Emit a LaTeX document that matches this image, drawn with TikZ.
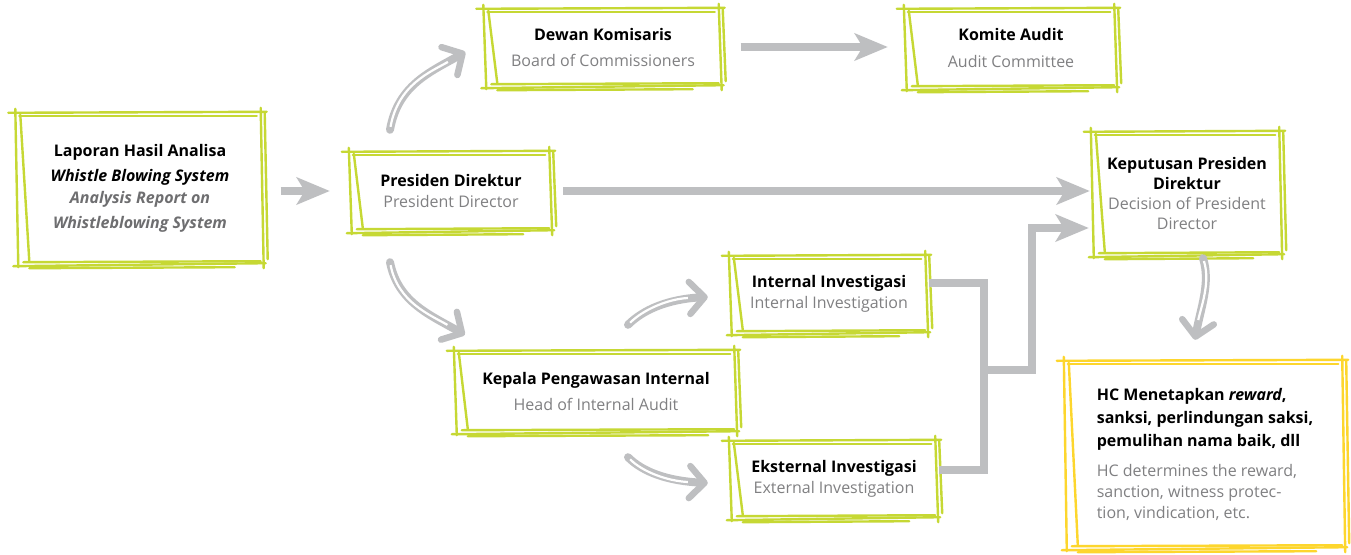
\documentclass[tikz,border=0pt]{standalone}
\usepackage{fontspec}
\setmainfont{Open Sans}
\usetikzlibrary{arrows.meta,calc}
\definecolor{lime}{RGB}{198,216,52}
\definecolor{yel}{RGB}{253,214,45}
\definecolor{agray}{RGB}{190,191,193}
\definecolor{tgray}{RGB}{128,128,130}
\definecolor{igray}{RGB}{110,110,112}
\tikzset{
  box/.style={align=center, inner sep=0pt, font=\fontsize{16}{21}\selectfont},
  sk/.style={draw=#1, line width=2.4pt, line cap=round},
  bigarrow/.style={draw=agray, line width=8pt, -{Stealth[length=33pt,width=27pt,inset=8pt]}},
  elbow/.style={draw=agray, line width=8pt},
  cv/.style={draw=agray, line width=8pt, line cap=round, -{Straight Barb[length=15pt,width=32pt,line width=6.5pt,round]}},
  cvgap/.style={draw=white, line width=2.2pt, shorten >=20pt, shorten <=3pt},
}
\newcommand\skbox[2]{%
  \draw[sk=#2] ($(#1.north west)+(-9,0)$) -- ($(#1.north east)+(4,-1)$);
  \draw[sk=#2] ($(#1.north west)+(2,3)$) -- ($(#1.north east)+(-6,3)$);
  \draw[sk=#2] ($(#1.south west)+(-4,3)$) -- ($(#1.south east)+(3,0)$);
  \draw[sk=#2] ($(#1.south west)+(6,-1)$) -- ($(#1.south east)+(-2,-2)$);
  \draw[sk=#2] ($(#1.south west)+(12,5)$) -- ($(#1.south east)+(-28,4)$);
  \draw[sk=#2] ($(#1.north west)+(-2,-4)$) -- ($(#1.south west)+(1,4)$);
  \draw[sk=#2] ($(#1.north west)+(3,2)$) -- ($(#1.south west)+(12,-2)$);
  \draw[sk=#2] ($(#1.north east)+(-2,-5)$) -- ($(#1.south east)+(1,5)$);
  \draw[sk=#2] ($(#1.north east)+(2,0)$) -- ($(#1.south east)+(5,-4)$);
}
\newcommand\curvy[4]{%
  \draw[cv] (#1) .. controls ($(#1)+#2$) and ($(#4)+#3$) .. (#4);
  \draw[cvgap] (#1) .. controls ($(#1)+#2$) and ($(#4)+#3$) .. (#4);
}
\begin{document}
\begin{tikzpicture}[x=1pt,y=-1pt]
\useasboundingbox (0,0) rectangle (1351,554);
\fill[white] (0,0) rectangle (1351,554);

\node[box, minimum width=245pt, minimum height=150pt] (lap) at (140,188)
  {\textbf{Laporan Hasil Analisa}\\[4pt]
   {\bfseries\itshape Whistle Blowing System}\\[1pt]
   {\color{igray}\bfseries\itshape Analysis Report on}\\[4pt]
   {\color{igray}\bfseries\itshape Whistleblowing System}};
\node[box, minimum width=200pt, minimum height=78pt] (pres) at (451,191)
  {\textbf{Presiden Direktur}\\{\color{tgray}President Director}};
\node[box, minimum width=235pt, minimum height=76pt] (dewan) at (603,47)
  {\textbf{Dewan Komisaris}\\[5pt]{\color{tgray}Board of Commissioners}};
\node[box, minimum width=210pt, minimum height=78pt] (komite) at (1011,48)
  {\textbf{Komite Audit}\\[6pt]{\color{tgray}Audit Committee}};
\node[box, minimum width=188pt, minimum height=122pt] (kep) at (1187,193)
  {\textbf{Keputusan Presiden}\\[-1pt]\textbf{Direktur}\\[-1pt]{\color{tgray}Decision of President}\\[-1pt]{\color{tgray}Director}};
\node[box, minimum width=196pt, minimum height=76pt] (int) at (829,294)
  {\textbf{Internal Investigasi}\\{\color{tgray}Internal Investigation}};
\node[box, minimum width=280pt, minimum height=80pt] (kpi) at (596,391)
  {\textbf{Kepala Pengawasan Internal}\\[5pt]{\color{tgray}Head of Internal Audit}};
\node[box, minimum width=206pt, minimum height=76pt] (ext) at (834,479)
  {\textbf{Eksternal Investigasi}\\{\color{tgray}External Investigation}};
\node[box, align=left, minimum width=278pt, minimum height=186pt] (hc) at (1205,454)
  {\textbf{HC Menetapkan \textit{reward},}\\[2pt]
   \textbf{sanksi, perlindungan saksi,}\\[2pt]
   \textbf{pemulihan nama baik, dll}\\[9pt]
   {\color{tgray}HC determines the reward,}\\
   {\color{tgray}sanction, witness protec-}\\
   {\color{tgray}tion, vindication, etc.}};

\foreach \n in {lap,pres,dewan,komite,kep,int,kpi,ext} {\skbox{\n}{lime}}
\skbox{hc}{yel}

% straight arrows
\draw[bigarrow, shorten <=18pt, shorten >=21pt] (lap.east |- pres.west) -- (pres.west);
\draw[bigarrow, shorten <=20pt, shorten >=18pt] (dewan.east) -- (dewan.east -| komite.west);
\draw[bigarrow, shorten <=12pt, shorten >=3pt] (pres.east) -- (pres.east -| kep.west);

% elbow connectors
\coordinate (i1) at ($(int.east)+(2,-11)$);
\coordinate (e1) at ($(ext.east)+(2,-9)$);
\coordinate (vx) at ($(int.east)+(57,0)$);
\coordinate (jn) at (vx |- kpi.center);
\coordinate (jn) at ($(jn)+(0,-21)$);
\coordinate (kt) at ($(kep.west)+(-4,35)$);
\draw[elbow, line join=miter] (i1) -| (vx |- e1) -- (e1);
\draw[elbow] (jn) -- ++(52,0) coordinate (jv);
\draw[bigarrow, line join=miter, shorten >=0pt] ($(jv)+(-4,0)$) -| ++(0,0) |- (kt);

% curved sketch arrows
\coordinate (s1) at ($(pres.north)+(-61,-22)$);
\coordinate (t1) at ($(dewan.west)+(-20,5)$);
\curvy{s1}{(8,-45)}{(-35,20)}{t1}
\coordinate (s2) at ($(pres.south)+(-61,32)$);
\coordinate (t2) at ($(kpi.north west)+(9,-16)$);
\curvy{s2}{(8,40)}{(-35,-20)}{t2}
\coordinate (s3) at ($(kpi.north)+(32,-26)$);
\coordinate (t3) at ($(int.west)+(-23,3)$);
\curvy{s3}{(15,-15)}{(-40,2)}{t3}
\coordinate (s4) at ($(kpi.south)+(32,26)$);
\coordinate (t4) at ($(ext.west)+(-23,4)$);
\curvy{s4}{(15,15)}{(-40,-2)}{t4}
\coordinate (s5) at ($(kep.south)+(16,4)$);
\coordinate (t5) at ($(hc.north)+(-10,-21)$);
\curvy{s5}{(8,25)}{(5,-30)}{t5}
\end{tikzpicture}
\end{document}
